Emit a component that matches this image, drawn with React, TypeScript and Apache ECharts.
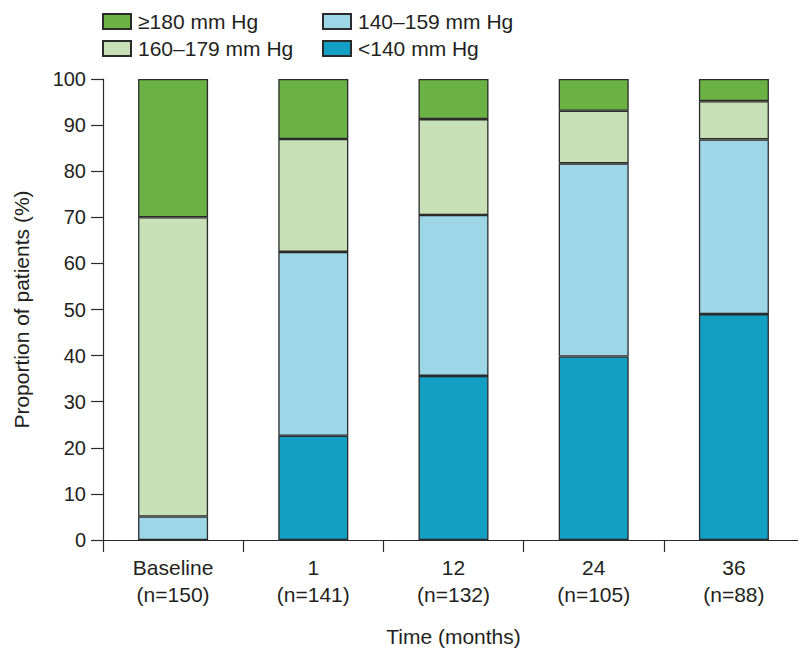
import React, { useEffect, useRef } from "react";
import * as echarts from "echarts";

const categories = ["Baseline\n(n=150)", "1\n(n=141)", "12\n(n=132)", "24\n(n=105)", "36\n(n=88)"];
const seriesNames = ["<140 mm Hg", "140–159 mm Hg", "160–179 mm Hg", "≥180 mm Hg"];
const below140 = [0, 22.6, 35.6, 39.8, 49.0];
const from140to159 = [5.1, 39.9, 34.9, 41.9, 37.9];
const from160to179 = [64.9, 24.5, 20.8, 11.4, 8.3];
const atLeast180 = [30.0, 13.0, 8.7, 6.9, 4.8];
const colors = ["#139ec4", "#9dd6e7", "#c7e0b6", "#6bb244"];

const FONT = "'Liberation Sans', Arial, Helvetica, sans-serif";
const TEXT = "#231f20";
const LINE = "#2b2b2b";

export default function App() {
  const ref = useRef<HTMLDivElement>(null);

  useEffect(() => {
    if (!ref.current) return;
    const chart = echarts.init(ref.current, null, { renderer: "svg" });
    const values = [below140, from140to159, from160to179, atLeast180];

    const legendBase = {
      orient: "vertical" as const,
      itemWidth: 28,
      itemHeight: 15,
      itemGap: 6,
      top: 6,
      icon: "rect",
      textStyle: { fontFamily: FONT, fontSize: 21, color: TEXT, padding: [0, 0, 0, 2] },
      selectedMode: false,
    };

    chart.setOption({
      animation: false,
      textStyle: { fontFamily: FONT },
      legend: [
        { ...legendBase, left: 97, data: ["≥180 mm Hg", "160–179 mm Hg"] },
        { ...legendBase, left: 317, data: ["140–159 mm Hg", "<140 mm Hg"] },
      ],
      grid: { left: 103, right: 2, top: 79, bottom: 111 },
      xAxis: {
        type: "category",
        data: categories,
        name: "Time (months)",
        nameLocation: "middle",
        nameGap: 86,
        nameTextStyle: { fontFamily: FONT, fontSize: 21, color: TEXT },
        axisLine: { lineStyle: { color: LINE, width: 1.2 } },
        axisTick: { show: true, length: 12, lineStyle: { color: LINE, width: 1.2 } },
        axisLabel: { fontFamily: FONT, fontSize: 21, color: TEXT, lineHeight: 27, margin: 14 },
      },
      yAxis: {
        type: "value",
        min: 0,
        max: 100,
        interval: 10,
        name: "Proportion of patients (%)",
        nameLocation: "middle",
        nameRotate: 90,
        nameGap: 71,
        nameTextStyle: { fontFamily: FONT, fontSize: 21, color: TEXT },
        axisLine: { show: true, lineStyle: { color: LINE, width: 1.2 } },
        axisTick: { show: true, length: 12, lineStyle: { color: LINE, width: 1.2 } },
        axisLabel: { fontFamily: FONT, fontSize: 20, color: TEXT, margin: 17 },
        splitLine: { show: false },
      },
      series: seriesNames.map((name, i) => ({
        name,
        type: "bar",
        stack: "total",
        barWidth: 70,
        data: values[i],
        itemStyle: { color: colors[i], borderColor: LINE, borderWidth: 1.3 },
      })),
    });

    return () => chart.dispose();
  }, []);

  return <div ref={ref} style={{ width: 806, height: 652, marginLeft: -8, marginTop: -8 }} />;
}
